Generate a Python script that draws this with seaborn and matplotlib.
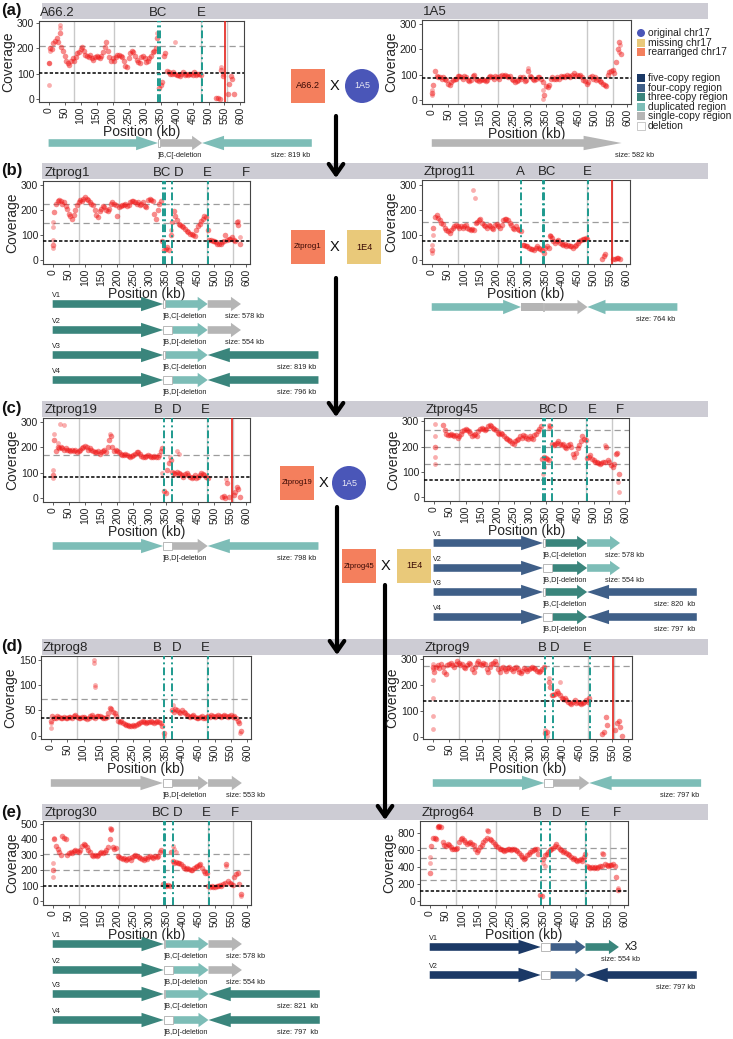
import numpy as np
import pandas as pd
import matplotlib
matplotlib.use("Agg")
import matplotlib.pyplot as plt
import seaborn as sns
from matplotlib.patches import Rectangle, Circle, Polygon

sns.set_theme(style="white")
plt.rcParams['font.family'] = ['Liberation Sans', 'DejaVu Sans']

W, H = 733, 1039
nan = float('nan')

# ---------------- data ----------------
POS = list(range(0, 585, 5))          # window positions (kb)

cov_A66_2 = [140,200,195,220,230,240,225,260,205,190,
             170,150,140,135,150,160,150,165,180,185,
             195,205,190,175,170,165,175,160,155,165,
             170,165,160,170,185,205,225,190,165,150,
             160,150,165,175,175,170,165,150,130,125,
             160,180,190,185,170,155,145,140,165,170,
             160,145,150,160,170,185,190,200,240,45,
             55,65,170,180,110,105,100,100,105,100,
             95,95,90,100,105,95,100,95,100,100,
             95,105,95,100,100,95,nan,nan,nan,nan,
             nan,nan,nan,nan,nan,5,3,0,115,90,
             nan,nan,20,60,90,80,20]
out_A66_2_kb = [0,0,3,35,37,340,395,540,545]
out_A66_2_cov = [55,140,190,290,280,260,225,125,100]

cov_1A5 = [30,60,115,95,90,90,85,90,85,80,
           65,60,70,80,85,85,95,95,90,85,
           95,90,80,75,80,95,100,85,80,75,
           80,85,80,75,80,90,95,90,85,95,
           90,85,95,100,95,100,95,90,95,85,
           80,70,75,80,90,85,90,75,80,115,
           95,90,85,80,85,90,90,85,70,20,
           55,50,60,85,90,85,85,90,85,95,
           90,95,90,100,95,90,100,105,95,100,
           95,100,90,80,75,65,70,90,95,85,
           90,80,85,75,70,65,60,55,100,110,
           115,120,105,150,200,230,180]
out_1A5_kb = [0,2,340,342,575,578,295]
out_1A5_cov = [20,40,5,40,190,215,125]

cov_Ztprog1 = [60,190,225,235,240,235,225,230,215,205,
               185,175,165,180,200,220,230,240,235,245,
               250,245,240,230,225,220,200,180,170,195,
               205,215,210,200,195,205,225,230,225,220,
               175,210,215,220,220,225,215,220,230,235,
               235,230,225,230,220,225,230,215,210,240,
               245,240,235,185,165,200,225,235,75,40,
               45,50,40,100,150,195,175,160,145,140,
               135,130,125,115,110,105,105,100,95,120,
               135,145,155,165,175,170,120,80,80,75,
               75,70,65,65,65,70,75,100,80,85,
               85,90,80,75,150,140,65]
out_Ztprog1_kb = [0,0,0,2,365,580,575]
out_Ztprog1_cov = [48,80,130,150,120,90,155]

cov_Ztprog11 = [40,130,175,180,170,160,150,145,130,120,
                115,110,120,130,135,140,135,130,135,130,
                135,140,130,125,120,125,120,150,155,160,
                165,150,140,135,130,140,135,130,125,140,
                145,135,130,140,160,165,165,160,150,140,
                130,125,135,125,120,115,60,60,55,55,
                50,45,45,40,50,55,50,45,40,30,
                50,55,50,95,90,75,70,75,80,70,
                65,60,65,55,60,55,55,50,55,60,
                70,75,80,85,85,90,85,nan,nan,nan,
                nan,nan,nan,nan,nan,5,15,25,nan,nan,
                nan,nan,5,5,10,10,5]
out_Ztprog11_kb = [0,2,3,128,133,365,368]
out_Ztprog11_cov = [30,60,100,280,250,100,95]

cov_Ztprog19 = [90,230,185,200,195,200,195,190,195,190,
                190,185,190,185,190,180,185,190,195,200,
                205,200,190,195,190,185,180,180,185,175,
                180,185,190,180,200,230,245,200,185,190,
                185,180,175,170,170,175,170,165,160,165,
                170,175,180,180,175,165,160,160,165,170,
                165,160,160,165,160,160,170,185,195,30,
                20,110,140,150,105,100,95,105,100,95,
                90,85,95,100,90,85,80,85,90,80,
                85,90,100,95,90,85,80,nan,nan,nan,
                nan,nan,nan,nan,nan,5,10,0,60,5,
                nan,nan,15,25,45,35,5]
out_Ztprog19_kb = [0,0,4,15,24,34,178,340,385,390,538,362]
out_Ztprog19_cov = [80,110,250,215,290,285,250,100,185,175,75,160]

cov_Ztprog45 = [nan,200,nan,nan,nan,nan,285,265,250,245,
                245,250,245,240,245,235,240,250,260,265,
                270,265,260,255,240,245,250,240,260,270,
                275,270,265,270,280,285,280,275,270,265,
                255,250,255,250,240,235,230,225,220,215,
                210,220,225,230,240,235,245,240,235,230,
                240,235,230,245,250,260,270,280,150,160,
                155,150,145,280,210,205,210,215,220,210,
                205,210,200,195,205,210,200,170,160,175,
                195,205,220,240,230,225,155,160,165,150,
                145,140,140,135,130,135,140,140,200,145,
                140,125,120,130,170,175,90]
out_Ztprog45_kb = [5,5,5,5,343,345,360,362,578,580,535]
out_Ztprog45_cov = [130,160,240,290,90,120,285,275,60,20,205]

cov_Ztprog8 = [30,40,35,35,40,38,35,36,38,35,
               36,38,37,35,40,42,38,36,35,37,
               38,36,34,36,40,42,38,35,40,40,
               40,38,36,35,38,45,55,52,48,45,
               40,30,28,30,26,24,22,22,20,20,
               22,20,22,24,26,28,30,28,26,27,
               28,30,28,26,28,30,28,25,20,5,
               nan,nan,nan,nan,50,48,52,50,48,45,
               50,48,45,42,40,38,40,42,38,35,
               35,38,40,36,35,38,40,38,42,40,
               38,40,42,40,38,40,42,40,38,40,
               42,38,40,35,30,25,10]
out_Ztprog8_kb = [132,133,135,134,0,0,372,345,578]
out_Ztprog8_cov = [150,145,100,97,25,15,60,0,5]

cov_Ztprog9 = [270,250,270,275,265,280,270,250,240,275,
               280,285,275,270,280,290,285,275,280,270,
               265,275,285,280,260,250,270,285,290,280,
               275,285,280,260,250,270,280,285,290,280,
               260,250,265,270,260,255,265,270,260,255,
               265,270,260,250,245,255,265,260,255,260,
               265,270,265,260,255,250,255,260,270,15,
               20,210,190,160,160,165,175,170,160,150,
               145,150,140,135,130,125,135,140,130,135,
               130,125,130,135,140,135,150,nan,nan,nan,
               nan,nan,nan,nan,10,20,75,45,nan,nan,
               nan,nan,25,55,60,40,5]
out_Ztprog9_kb = [0,0,0,0,0,2,345,350,390,357]
out_Ztprog9_cov = [280,220,150,80,30,260,25,5,210,225]

cov_Ztprog30 = [200,400,360,340,320,300,420,410,400,300,
                310,320,315,325,330,325,320,330,360,370,
                365,350,330,320,300,295,300,290,300,310,
                320,315,320,330,350,400,470,350,340,345,
                290,285,280,275,280,270,275,280,270,285,
                290,300,295,285,280,275,270,280,275,285,
                290,285,280,290,285,290,320,330,110,105,
                100,105,100,320,260,250,255,250,245,240,
                225,215,210,215,210,205,200,215,220,230,
                235,240,215,195,185,180,100,95,100,95,
                95,100,100,105,100,110,120,240,130,115,
                110,105,160,175,180,110,50]
out_Ztprog30_kb = [0,0,5,178,180,372,375,380,535,580]
out_Ztprog30_cov = [160,250,410,475,460,360,340,320,230,35]

cov_Ztprog64 = [330,650,740,750,730,870,890,880,700,660,
                650,670,660,640,620,615,610,630,700,730,
                740,720,700,680,690,700,680,660,620,580,
                600,640,660,700,720,740,830,730,720,700,
                680,650,640,620,610,600,590,600,610,620,
                600,610,620,600,590,570,540,520,500,510,
                540,560,580,590,600,610,620,560,80,60,
                500,540,560,580,600,620,630,650,680,640,
                620,600,580,590,570,560,540,520,500,510,
                490,480,490,500,480,520,560,420,400,390,
                400,395,400,390,400,410,420,560,440,430,
                420,425,430,440,420,290,130]
out_Ztprog64_kb = [0,0,25,30,175,350,355,530,580]
out_Ztprog64_cov = [450,520,890,880,840,450,420,570,160]

GRAY_KB = [80, 204, 477, 557]

# ---------------- colours ----------------
COL = {'five': '#1b3966', 'four': '#3f5f88', 'three': '#3a857c',
       'dup': '#7dbdb7', 'single': '#b5b5b5', 'box': '#b5b5b5', 'del': 'white'}
C_ORIG, C_MISS, C_REARR = '#4a56b8', '#e9c97a', '#f47f5d'
TEAL = '#1e9a8e'
HEADER = '#cdccd4'
PT_RED = '#f01818'

fig = plt.figure(figsize=(W / 100, H / 100), dpi=100)


def px_axes(x0, y0, x1, y1):
    return fig.add_axes([x0 / W, 1 - y1 / H, (x1 - x0) / W, (y1 - y0) / H])


ov = px_axes(0, 0, W, H)
ov.set_xlim(0, W)
ov.set_ylim(H, 0)
ov.axis('off')

XL = (-30, 611)

PANELS = [
    dict(name='A66.2', box=(39, 21, 244, 102), cov=cov_A66_2, okb=out_A66_2_kb, ocov=out_A66_2_cov,
         ylim=(-12, 307), yt=[0, 100, 200, 300], hap=104, dash=[208], teal=[342, 347, 479], red=553,
         labels=[('BC', 342), ('E', 478)]),
    dict(name='1A5', box=(422, 20, 631, 104), cov=cov_1A5, okb=out_1A5_kb, ocov=out_1A5_cov,
         ylim=(-15, 315), yt=[0, 100, 200, 300], hap=88, dash=[], teal=[], red=None, labels=[]),
    dict(name='Ztprog1', box=(43, 181, 250, 264), cov=cov_Ztprog1, okb=out_Ztprog1_kb, ocov=out_Ztprog1_cov,
         ylim=(-16, 316), yt=[0, 100, 200, 300], hap=74, dash=[148, 222], teal=[342, 347, 370, 481], red=None,
         labels=[('BC', 338), ('D', 389), ('E', 479), ('F', 598)]),
    dict(name='Ztprog11', box=(422, 180, 630, 264), cov=cov_Ztprog11, okb=out_Ztprog11_kb, ocov=out_Ztprog11_cov,
         ylim=(-16, 322), yt=[0, 100, 200, 300], hap=76, dash=[152], teal=[275, 342, 347, 481], red=555,
         labels=[('A', 273), ('BC', 355), ('E', 478)]),
    dict(name='Ztprog19', box=(43, 418, 250, 502), cov=cov_Ztprog19, okb=out_Ztprog19_kb, ocov=out_Ztprog19_cov,
         ylim=(-14, 314), yt=[0, 100, 200, 300], hap=84, dash=[168], teal=[344, 370, 481], red=554,
         labels=[('B', 326), ('D', 384), ('E', 473)]),
    dict(name='Ztprog45', box=(424, 418, 629, 501), cov=cov_Ztprog45, okb=out_Ztprog45_kb, ocov=out_Ztprog45_cov,
         ylim=(-16, 313), yt=[0, 100, 200, 300], hap=66, dash=[132, 198, 264], teal=[342, 347, 370, 481], red=None,
         labels=[('BC', 359), ('D', 405), ('E', 495), ('F', 583)]),
    dict(name='Ztprog8', box=(41, 656, 251, 739), cov=cov_Ztprog8, okb=out_Ztprog8_kb, ocov=out_Ztprog8_cov,
         ylim=(-6.5, 158), yt=[0, 50, 100, 150], hap=36, dash=[72], teal=[344, 370, 481], red=None,
         labels=[('B', 326), ('D', 384), ('E', 473)]),
    dict(name='Ztprog9', box=(423, 656, 632, 739), cov=cov_Ztprog9, okb=out_Ztprog9_kb, ocov=out_Ztprog9_cov,
         ylim=(-8, 311), yt=[0, 100, 200, 300], hap=137, dash=[274], teal=[344, 370, 481], red=554,
         labels=[('B', 336), ('D', 375), ('E', 473)]),
    dict(name='Ztprog30', box=(43, 821, 251, 905), cov=cov_Ztprog30, okb=out_Ztprog30_kb, ocov=out_Ztprog30_cov,
         ylim=(-24, 519), yt=[0, 100, 200, 300, 400, 500], hap=102, dash=[204, 306], teal=[342, 347, 370, 481],
         red=None, labels=[('BC', 333), ('D', 385), ('E', 473), ('F', 560)]),
    dict(name='Ztprog64', box=(420, 821, 628, 905), cov=cov_Ztprog64, okb=out_Ztprog64_kb, ocov=out_Ztprog64_cov,
         ylim=(-43, 945), yt=[0, 200, 400, 600, 800], hap=126, dash=[252, 378, 504, 630], teal=[342, 370, 481],
         red=None, labels=[('B', 333), ('D', 391), ('E', 480), ('F', 576)]),
]


def coverage_panel(p):
    x0, y0, x1, y1 = p['box']
    ax = px_axes(x0, y0, x1, y1)
    ax.set_facecolor('white')
    for g in GRAY_KB:
        ax.axvline(g, color='#c9c9c9', lw=1.0, zorder=1)
    for h in p['dash']:
        ax.axhline(h, color='#9c9c9c', lw=0.9, ls=(0, (5, 3)), zorder=1)
    df = pd.DataFrame({'Position': POS, 'Coverage': p['cov']}).dropna()
    sns.scatterplot(data=df, x='Position', y='Coverage', ax=ax, color=PT_RED, alpha=0.5,
                    s=16, linewidth=0, zorder=3, legend=False)
    od = pd.DataFrame({'Position': p['okb'], 'Coverage': p['ocov']})
    sns.scatterplot(data=od, x='Position', y='Coverage', ax=ax, color=PT_RED, alpha=0.35,
                    s=12, linewidth=0, zorder=3, legend=False)
    ax.axhline(p['hap'], color='black', lw=1.1, ls=(0, (2.2, 1.3)), zorder=4)
    for t in p['teal']:
        ax.axvline(t, color=TEAL, lw=1.4, ls=(0, (4, 1.6, 1, 1.6)), zorder=5)
    if p['red'] is not None:
        ax.axvline(p['red'], color='#e3221b', lw=1.2, zorder=5)
    ax.set_xlim(*XL)
    ax.set_ylim(*p['ylim'])
    xt = list(range(0, 601, 50))
    ax.set_xticks(xt)
    ax.set_xticklabels([str(v) for v in xt], rotation=90, fontsize=7.5)
    ax.set_yticks(p['yt'])
    ax.set_yticklabels([str(v) for v in p['yt']], fontsize=7.5)
    ax.tick_params(bottom=True, left=True, length=2.5, width=0.6, pad=1,
                   color='#444444', labelcolor='#222222')
    ax.set_xlabel('Position (kb)', fontsize=10, labelpad=0.5)
    ax.set_ylabel('Coverage', fontsize=10, labelpad=1)
    for s in ax.spines.values():
        s.set_visible(True)
        s.set_color('#444444')
        s.set_linewidth(0.8)
    ax.annotate(p['name'], xy=(0, 1), xycoords='axes fraction', xytext=(1, 1.2),
                textcoords='offset points', ha='left', va='bottom', fontsize=9.5,
                annotation_clip=False)
    for lbl, kb in p['labels']:
        ax.annotate(lbl, xy=(kb, 1), xycoords=('data', 'axes fraction'), xytext=(0, 1.2),
                    textcoords='offset points', ha='center', va='bottom', fontsize=9.5,
                    annotation_clip=False)
    return ax


# ---------------- arrow diagram data ----------------
DIAGRAMS = {
    'A66.2': [dict(y=143, segs=[('dup', 0, 342, 'r'), ('del', 342, 347, None), ('single', 347, 480, 'r'),
                                ('dup', 480, 823, 'l')], dtext=']B,C[-deletion', size='size: 819 kb', align='right')],
    '1A5': [dict(y=143, segs=[('single', 0, 582, 'r')], dtext=None, size='size: 582 kb', align='left', sx=563)],
    'Ztprog1': [
        dict(y=304, v='V1', segs=[('three', 0, 342, 'r'), ('del', 342, 347, None), ('dup', 347, 480, 'r'),
                                  ('single', 480, 583, 'r')], dtext=']B,C[-deletion', size='size: 578 kb', align='left'),
        dict(y=330, v='V2', segs=[('three', 0, 342, 'r'), ('del', 342, 370, None), ('dup', 370, 480, 'r'),
                                  ('single', 480, 583, 'r')], dtext=']B,D[-deletion', size='size: 554 kb', align='left'),
        dict(y=355, v='V3', segs=[('three', 0, 342, 'r'), ('del', 342, 347, None), ('dup', 347, 480, 'r'),
                                  ('three', 480, 823, 'l')], dtext=']B,C[-deletion', size='size: 819 kb', align='right'),
        dict(y=380, v='V4', segs=[('three', 0, 342, 'r'), ('del', 342, 370, None), ('dup', 370, 480, 'r'),
                                  ('three', 480, 823, 'l')], dtext=']B,D[-deletion', size='size: 796 kb', align='right'),
    ],
    'Ztprog11': [dict(y=307, segs=[('dup', 0, 275, 'r'), ('box', 275, 342, None), ('del', 342, 347, None),
                                   ('single', 347, 480, 'r'), ('dup', 480, 757, 'l')],
                      dtext=None, size='size: 764 kb', align='right')],
    'Ztprog19': [dict(y=546, segs=[('dup', 0, 342, 'r'), ('del', 342, 370, None), ('single', 370, 480, 'r'),
                                   ('dup', 480, 823, 'l')], dtext=']B,D[-deletion', size='size: 798 kb', align='right')],
    'Ztprog45': [
        dict(y=543, v='V1', segs=[('four', 0, 342, 'r'), ('del', 342, 347, None), ('three', 347, 480, 'r'),
                                  ('dup', 480, 583, 'r')], dtext=']B,C[-deletion', size='size: 578 kb', align='left'),
        dict(y=568, v='V2', segs=[('four', 0, 342, 'r'), ('del', 342, 370, None), ('three', 370, 480, 'r'),
                                  ('dup', 480, 583, 'r')], dtext=']B,D[-deletion', size='size: 554 kb', align='left'),
        dict(y=592, v='V3', segs=[('four', 0, 342, 'r'), ('del', 342, 347, None), ('three', 347, 480, 'r'),
                                  ('four', 480, 823, 'l')], dtext=']B,C[-deletion', size='size: 820  kb', align='right'),
        dict(y=617, v='V4', segs=[('four', 0, 342, 'r'), ('del', 342, 370, None), ('three', 370, 480, 'r'),
                                  ('four', 480, 823, 'l')], dtext=']B,D[-deletion', size='size: 797  kb', align='right'),
    ],
    'Ztprog8': [dict(y=783, segs=[('single', 0, 342, 'r'), ('del', 342, 370, None), ('single', 370, 480, 'r'),
                                  ('single', 480, 583, 'r')], dtext=']B,D[-deletion', size='size: 553 kb', align='left')],
    'Ztprog9': [dict(y=783, segs=[('dup', 0, 342, 'r'), ('del', 342, 370, None), ('single', 370, 480, 'r'),
                                  ('dup', 480, 823, 'l')], dtext=None, size='size: 797 kb', align='right')],
    'Ztprog30': [
        dict(y=944, v='V1', segs=[('three', 0, 342, 'r'), ('del', 342, 347, None), ('dup', 347, 480, 'r'),
                                  ('single', 480, 583, 'r')], dtext=']B,C[-deletion', size='size: 578 kb', align='left'),
        dict(y=970, v='V2', segs=[('three', 0, 342, 'r'), ('del', 342, 370, None), ('dup', 370, 480, 'r'),
                                  ('single', 480, 583, 'r')], dtext=']B,D[-deletion', size='size: 554 kb', align='left'),
        dict(y=994, v='V3', segs=[('three', 0, 342, 'r'), ('del', 342, 347, None), ('dup', 347, 480, 'r'),
                                  ('three', 480, 823, 'l')], dtext=']B,C[-deletion', size='size: 821  kb', align='right'),
        dict(y=1020, v='V4', segs=[('three', 0, 342, 'r'), ('del', 342, 370, None), ('dup', 370, 480, 'r'),
                                   ('three', 480, 823, 'l')], dtext=']B,D[-deletion', size='size: 797  kb', align='right'),
    ],
    'Ztprog64': [
        dict(y=947, v='V1', segs=[('five', 0, 342, 'r'), ('del', 342, 370, None), ('four', 370, 480, 'r'),
                                  ('three', 480, 583, 'r')], dtext=None, size='size: 554 kb', align='left', sx=527,
             extra='x3'),
        dict(y=975, v='V2', segs=[('five', 0, 342, 'r'), ('del', 342, 370, None), ('four', 370, 480, 'r'),
                                  ('five', 480, 823, 'l')], dtext=None, size='size: 797 kb', align='right'),
    ],
}


def diagram(p, rows):
    x0, y0, x1, y1 = p['box']
    s = (x1 - x0) / (XL[1] - XL[0])      # px per kb
    ytop = rows[0]['y'] - 16
    ybot = rows[-1]['y'] + 20
    ax = px_axes(x0, ytop, W, ybot)
    ax.set_xlim(XL[0], XL[0] + (W - x0) / s)
    ax.set_ylim(ybot, ytop)
    ax.axis('off')
    ax.patch.set_alpha(0)
    bh, hh = 3.8, 7.2
    for r in rows:
        y = r['y']
        for kind, a, b, d in r['segs']:
            L = (b - a) * s
            if kind == 'del':
                ax.add_patch(Rectangle((a, y - bh), b - a, 2 * bh, facecolor='white',
                                       edgecolor='#b8b8b8', lw=0.7, clip_on=False, zorder=3))
                continue
            if d is None:
                ax.add_patch(Rectangle((a, y - bh), b - a, 2 * bh, facecolor=COL[kind],
                                       edgecolor='none', clip_on=False, zorder=2))
                continue
            hl = max(0.2 * L, 10) / s
            if d == 'r':
                pts = [(a, y - bh), (b - hl, y - bh), (b - hl, y - hh), (b, y), (b - hl, y + hh),
                       (b - hl, y + bh), (a, y + bh)]
            else:
                pts = [(b, y - bh), (a + hl, y - bh), (a + hl, y - hh), (a, y), (a + hl, y + hh),
                       (a + hl, y + bh), (b, y + bh)]
            ax.add_patch(Polygon(pts, closed=True, facecolor=COL[kind], edgecolor='none',
                                 clip_on=False, zorder=2))
        ty = y + 12.5
        if r.get('v'):
            ax.text(-2, y - 5, r['v'], fontsize=5.2, ha='left', va='bottom', color='#222222')
        if r.get('dtext'):
            ax.text(343, ty, r['dtext'], fontsize=5.3, ha='left', va='center', color='#222222')
        end = max(seg[2] for seg in r['segs'])
        if r['align'] == 'left':
            ax.text(r.get('sx', 535), ty, r['size'], fontsize=5.3, ha='left', va='center', color='#222222')
        else:
            ax.text(end - 6, ty, r['size'], fontsize=5.3, ha='right', va='center', color='#222222')
        if r.get('extra'):
            ax.text(end + 18, y, r['extra'], fontsize=9, ha='left', va='center', color='#222222')


# ---------------- headers ----------------
HEADERS = [(3, '(a)'), (163, '(b)'), (401, '(c)'), (639, '(d)'), (804, '(e)')]
for yh, lab in HEADERS:
    ov.add_patch(Rectangle((42, yh), 708 - 42, 16, facecolor=HEADER, edgecolor='none', zorder=0))
    ov.text(1, yh + 8, lab, fontsize=12, fontweight='bold', ha='left', va='center', color='#111111')

for p in PANELS:
    coverage_panel(p)
    diagram(p, DIAGRAMS[p['name']])

# ---------------- crossing scheme ----------------
def square(x, y, sz, col, txt, fs):
    ov.add_patch(Rectangle((x, y), sz, sz, facecolor=col, edgecolor='none', zorder=3))
    ov.text(x + sz / 2, y + sz / 2, txt, fontsize=fs, ha='center', va='center', color='#3a0a04', zorder=4)


def circle(cx, cy, r, txt):
    ov.add_patch(Circle((cx, cy), r, facecolor=C_ORIG, edgecolor='none', zorder=3))
    ov.text(cx, cy, txt, fontsize=6.5, ha='center', va='center', color='#e8e8f4', zorder=4)


def cross_x(x, y):
    ov.text(x, y, 'X', fontsize=10.5, ha='center', va='center', color='#111111', zorder=4)


def down_arrow(x, ya, yb):
    ov.annotate('', xy=(x, yb), xytext=(x, ya),
                arrowprops=dict(arrowstyle='->,head_length=0.5,head_width=0.35', lw=3, color='black',
                                shrinkA=0, shrinkB=0, mutation_scale=15), zorder=5)


square(291, 69, 34, C_REARR, 'A66.2', 6.6)
cross_x(335, 86)
circle(362, 86, 17, '1A5')
down_arrow(336, 116, 178)

square(291, 230, 34, C_REARR, 'Ztprog1', 5.8)
cross_x(335, 247)
square(347, 230, 34, C_MISS, '1E4', 6.6)
down_arrow(336, 278, 417)

square(280, 466, 34, C_REARR, 'Ztprog19', 5.5)
cross_x(324, 483)
circle(349, 483, 17, '1A5')
down_arrow(337, 507, 655)

square(342, 549, 34, C_REARR, 'Ztprog45', 5.5)
cross_x(386, 566)
square(397, 549, 34, C_MISS, '1E4', 6.6)
down_arrow(385, 585, 820)

# ---------------- legend ----------------
LEG1 = [('original chr17', C_ORIG, 'circle'), ('missing chr17', C_MISS, 'sq'),
        ('rearranged chr17', C_REARR, 'sq')]
LEG2 = [('five-copy region', COL['five']), ('four-copy region', COL['four']),
        ('three-copy region', COL['three']), ('duplicated region', COL['dup']),
        ('single-copy region', COL['single']), ('deletion', 'white')]
for i, (t, c, m) in enumerate(LEG1):
    yy = 33 + i * 9.7
    if m == 'circle':
        ov.add_patch(Circle((641, yy), 4, facecolor=c, edgecolor='none'))
    else:
        ov.add_patch(Rectangle((637, yy - 4), 8, 8, facecolor=c, edgecolor='none'))
    ov.text(648, yy, t, fontsize=7.4, ha='left', va='center', color='#222222')
for i, (t, c) in enumerate(LEG2):
    yy = 78 + i * 9.6
    ov.add_patch(Rectangle((637, yy - 4), 8, 8, facecolor=c,
                           edgecolor='#c0c0c0' if c == 'white' else 'none', lw=0.6))
    ov.text(648, yy, t, fontsize=7.4, ha='left', va='center', color='#222222')

fig.savefig('out.png', dpi=100, facecolor='white')
